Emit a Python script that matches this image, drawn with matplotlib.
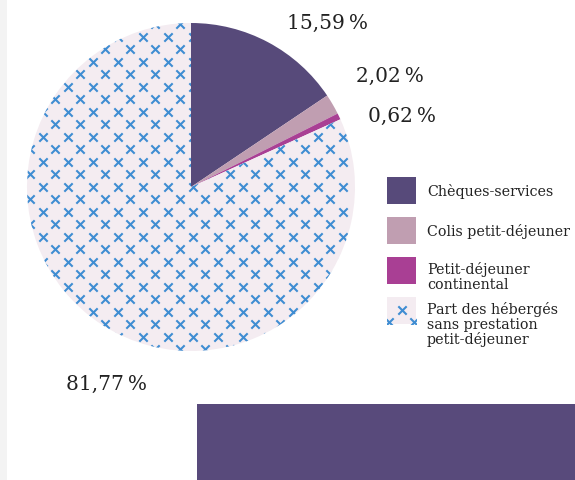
import numpy as np
import matplotlib.pyplot as plt
from matplotlib.patches import Rectangle

# parts des bénéficiaires par type de prestation petit-déjeuner (%)
categories = ['Chèques-services', 'Colis petit-déjeuner',
              'Petit-déjeuner\ncontinental',
              'Part des hébergés\nsans prestation\npetit-déjeuner']
parts = [15.59, 2.02, 0.62, 81.77]
couleurs = ['#574a7a', '#c09eb1', '#a93f94', '#f4ecf1']
couleur_croix = '#3f8dd2'

W, H = 575, 481
fig = plt.figure(figsize=(W / 100, H / 100), dpi=100)
ax = fig.add_axes([0, 0, 1, 1])

police = 'DejaVu Serif'
texte = '#222222'


def croix(patch, x0, x1, y0, y1, pas=25):
    # motif de petites croix, limité à la forme donnée
    pts = []
    for j, y in enumerate(np.arange(y0, y1, pas / 2)):
        dx = (pas / 2) * (j % 2)
        for x in np.arange(x0 + dx, x1, pas):
            pts.append((x, y))
    pts = np.array(pts)
    sc = ax.scatter(pts[:, 0], pts[:, 1], marker='x', s=36, linewidths=1.5,
                    color=couleur_croix, zorder=3)
    sc.set_clip_path(patch)


# bande grise à gauche
ax.add_patch(Rectangle((0, 0), 7, H, color='#f3f3f3', lw=0))

# camembert
cx, cy, r = 191, H - 188, 164
wedges, _ = ax.pie(parts, colors=couleurs, startangle=90, counterclock=False,
                   center=(cx, cy), radius=r, wedgeprops=dict(linewidth=0),
                   frame=True)
ax.set_xlim(0, W)
ax.set_ylim(0, H)
ax.set_aspect('equal')
ax.axis('off')
croix(wedges[3], cx - r + 3, cx + r, cy - r + 2, cy + r)

# étiquettes de valeur
def fmt(v):
    return f'{v:.2f}'.replace('.', ',') + '\u202f%'

pos_lab = [(287, 23), (356, 76), (368, 116), (66, 384)]
for v, (x, y) in zip(parts, pos_lab):
    ax.text(x, H - y, fmt(v), fontsize=14.5, family=police, color=texte,
            ha='left', va='center')

# légende
lx, lw, lh = 387, 29, 27
tops = [178, 218, 258, 298]
for i, (nom, c) in enumerate(zip(categories, couleurs)):
    rect = Rectangle((lx, H - tops[i] - lh), lw, lh, color=c, lw=0)
    ax.add_patch(rect)
    if i == 3:
        croix(rect, lx + 2, lx + lw, H - tops[i] - lh + 2, H - tops[i])
    nl = nom.count('\n')
    if nl == 0:
        ax.text(427, H - tops[i] - lh / 2, nom, fontsize=10.3, family=police,
                color=texte, ha='left', va='center')
    else:
        ax.text(427, H - tops[i] - 4, nom, fontsize=10.3, family=police,
                color=texte, ha='left', va='top', linespacing=1.05)

# bandeau violet en bas
ax.add_patch(Rectangle((197, 0), W - 197, H - 405, color='#584a7b', lw=0))

fig.savefig('out.png', dpi=100)
